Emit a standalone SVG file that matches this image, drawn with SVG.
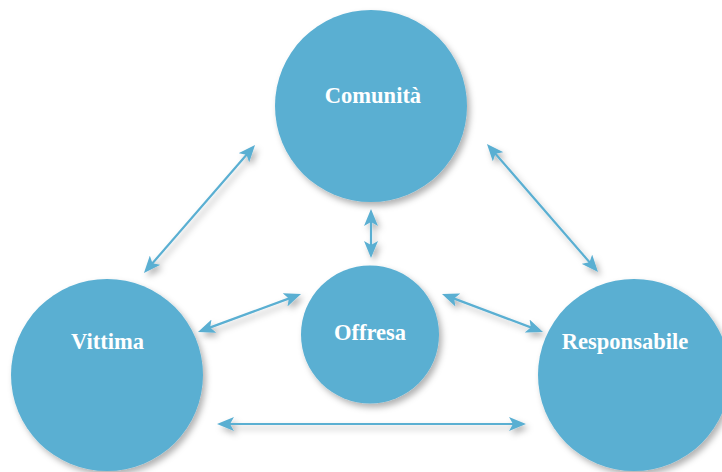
<svg xmlns="http://www.w3.org/2000/svg" width="722" height="472" viewBox="0 0 722 472">
<defs>
<filter id="sh" x="-20%" y="-20%" width="150%" height="150%">
<feDropShadow dx="3" dy="4" stdDeviation="3" flood-color="#000" flood-opacity="0.3"/>
</filter>
<marker id="ah" viewBox="0 0 17 14" markerWidth="17" markerHeight="14" refX="11" refY="7" orient="auto-start-reverse" markerUnits="userSpaceOnUse">
<path d="M0,0 L17,7 L0,14 L4,7 Z" fill="#5aafd2"/>
</marker>
<style>
.node{fill:#5aafd2;filter:url(#sh)}
.lbl{font-family:"Liberation Serif","Times New Roman",serif;font-weight:bold;font-size:22.5px;fill:#fff;text-anchor:middle}
.conn line{stroke:#5aafd2;stroke-width:2.2;marker-start:url(#ah);marker-end:url(#ah)}
</style>
</defs>
<rect width="722" height="472" fill="#fff"/>
<g id="connectors" filter="url(#sh)" class="conn">
<line x1="147.9" y1="268.5" x2="251.1" y2="149.5"/>
<line x1="490.9" y1="148.5" x2="594.1" y2="267.5"/>
<line x1="203.6" y1="329.9" x2="295.4" y2="296.1"/>
<line x1="447.6" y1="296.1" x2="537.4" y2="329.9"/>
<line x1="223" y1="424" x2="520" y2="424"/>
<line x1="371" y1="215" x2="371" y2="252"/>
</g>
<g id="comunita"><circle class="node" cx="371" cy="106" r="96"/><text class="lbl" x="373" y="103">Comunità</text></g>
<g id="vittima"><circle class="node" cx="107" cy="375" r="96"/><text class="lbl" x="107.5" y="349">Vittima</text></g>
<g id="offresa"><circle class="node" cx="370" cy="334.5" r="69"/><text class="lbl" x="370" y="340">Offresa</text></g>
<g id="responsabile"><circle class="node" cx="634" cy="375" r="96"/><text class="lbl" x="625" y="349">Responsabile</text></g>
</svg>
